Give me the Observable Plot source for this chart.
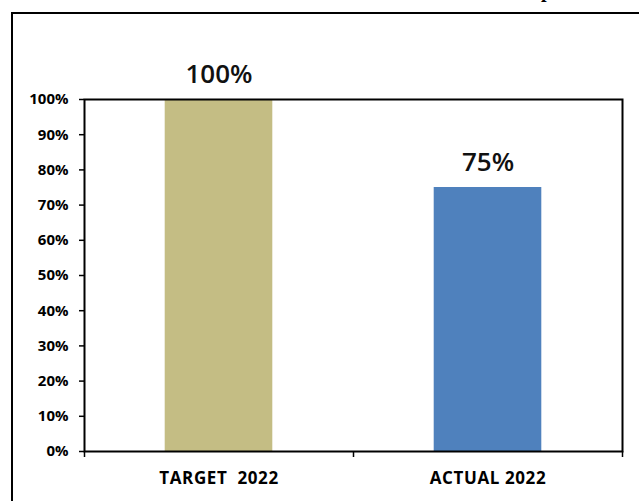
<!DOCTYPE html>
<html>
<head>
<meta charset="utf-8">
<script src="https://cdn.jsdelivr.net/npm/d3@7"></script>
<script src="https://cdn.jsdelivr.net/npm/@observablehq/plot@0.6"></script>
<style>
  html, body { margin: 0; padding: 0; background: #fff; }
  body { width: 639px; height: 501px; overflow: hidden; position: relative; font-family: "Open Sans", Lato, sans-serif; }
  #border { position: absolute; left: 11px; top: 12px; width: 700px; height: 600px; border: 2px solid #000; box-sizing: border-box; }
  #title { position: absolute; left: 541px; top: -20px; font-family: "Liberation Serif", serif; font-weight: bold; font-size: 20px; line-height: 20px; color: #000; }
  #chart { position: absolute; left: 0; top: 0; }
  #chart text { white-space: pre; }
  #chart g.xlab text { letter-spacing: 0.6px; }
</style>
</head>
<body>
<div id="border"></div>
<div id="title">p</div>
<div id="chart"></div>
<script>
const categories = ["TARGET  2022", "ACTUAL 2022"];
const values = [100, 75];
const colors = ["#C4BD84", "#4F81BD"];
const yTicks = [0, 10, 20, 30, 40, 50, 60, 70, 80, 90, 100];

const data = categories.map((c, i) => ({i, category: c, value: values[i], color: colors[i]}));

const plot = Plot.plot({
  width: 639,
  height: 501,
  marginLeft: 84,
  marginRight: 17,
  marginTop: 99,
  marginBottom: 50,
  style: {background: "transparent", fontFamily: "'Open Sans', Lato, sans-serif", color: "#000"},
  x: {domain: [0, categories.length], axis: null},
  y: {domain: [0, 100], axis: null},
  marks: [
    Plot.rectY(data, {x1: d => d.i + 0.3, x2: d => d.i + 0.7, y1: 0, y2: "value", fill: "color"}),
    Plot.frame({stroke: "#000", strokeWidth: 2}),
    Plot.axisY({ticks: yTicks, label: null, tickFormat: d => d + "%", tickSize: 5, tickPadding: 11, fontSize: 15, fontWeight: "bold", strokeWidth: 1.5, stroke: "#000"}),
    Plot.axisX({ticks: d3.range(categories.length + 1), label: null, tickSize: 6, tickFormat: () => "", strokeWidth: 1.5, stroke: "#000"}),
    Plot.axisX({ticks: categories.map((c, i) => i + 0.5), label: null, tickSize: 0, tickPadding: 20, tickFormat: d => categories[Math.floor(d)], fontSize: 17, fontWeight: "bold", className: "xlab"}),
    Plot.text(data, {x: d => d.i + 0.5, y: "value", text: d => d.value + "%", dy: -25, fontSize: 26, fontWeight: 600, fill: "#111"})
  ]
});
document.getElementById("chart").appendChild(plot);
</script>
</body>
</html>
